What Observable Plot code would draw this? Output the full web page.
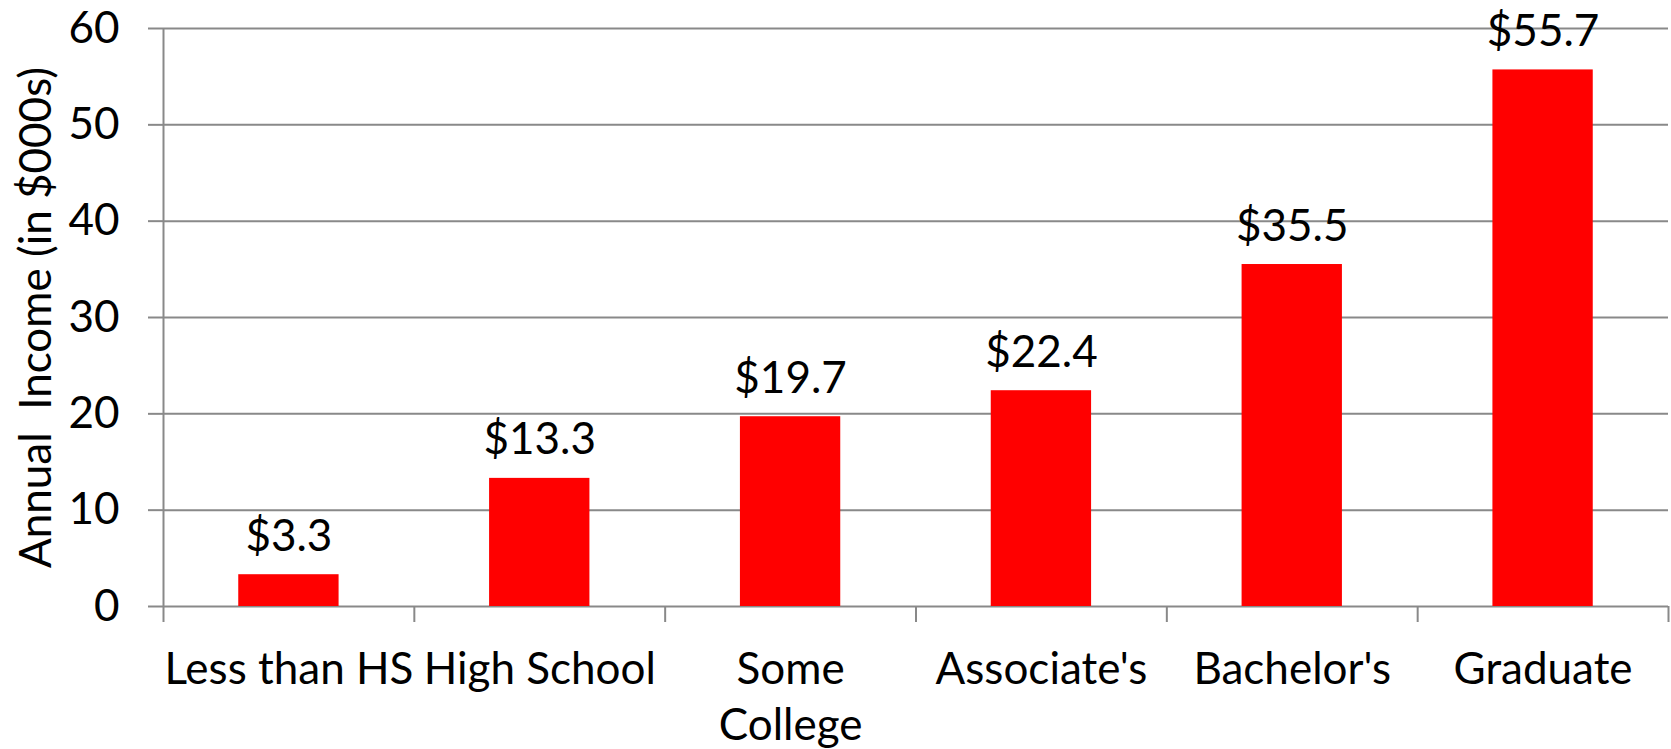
<!DOCTYPE html>
<html>
<head>
<meta charset="utf-8">
<script src="https://cdn.jsdelivr.net/npm/d3@7"></script>
<script src="https://cdn.jsdelivr.net/npm/@observablehq/plot@0.6"></script>
<style>
  html, body { margin: 0; padding: 0; background: #fff; }
  #chart svg { display: block; }
</style>
</head>
<body>
<div id="chart"></div>
<script>
const categories = ["Less than HS", "High School", "Some College", "Associate's", "Bachelor's", "Graduate"];
const tickLabels = ["Less than HS", "High School", "Some\nCollege", "Associate's", "Bachelor's", "Graduate"];
const incomes = [3.3, 13.3, 19.7, 22.4, 35.5, 55.7];
const valueLabels = ["$3.3", "$13.3", "$19.7", "$22.4", "$35.5", "$55.7"];
const yTicks = [0, 10, 20, 30, 40, 50, 60];
const yLabel = "Annual  Income (in $000s)";

const data = categories.map((c, i) => ({
  category: c, index: i, value: incomes[i], label: valueLabels[i], tick: tickLabels[i]
}));
const boundaries = d3.range(categories.length + 1);

const gray = "#898989";
const font = "Lato, 'Open Sans', sans-serif";
const fs = 44;
const lh = 1.28;

const chart = Plot.plot({
  width: 1671,
  height: 749,
  marginLeft: 163,
  marginRight: 3,
  marginTop: 28,
  marginBottom: 143,
  style: { fontFamily: font, background: "#fff", color: "#000" },
  x: { type: "linear", domain: [0, categories.length] },
  y: { domain: [0, 60] },
  marks: [
    Plot.gridY(yTicks, { stroke: gray, strokeOpacity: 1, strokeWidth: 2 }),
    Plot.axisY(yTicks, {
      tickSize: 15, tickPadding: 29, stroke: gray, strokeWidth: 2,
      fill: "#000", fontSize: fs, label: null, tickFormat: d => String(d)
    }),
    Plot.ruleX([0], { stroke: gray, strokeWidth: 2 }),
    Plot.axisX(boundaries, {
      tickSize: 16, stroke: gray, strokeWidth: 2, tickFormat: () => "", label: null
    }),
    Plot.rectY(data, {
      x1: d => d.index + 0.3, x2: d => d.index + 0.7, y1: 0, y2: "value",
      fill: "#ff0000", insetLeft: 0, insetRight: 0
    }),
    Plot.text(data, {
      x: d => d.index + 0.5, y: "value", text: "label",
      lineAnchor: "bottom", dy: -24, fontSize: fs, fill: "#000"
    }),
    Plot.text(data, {
      x: d => d.index + 0.5, frameAnchor: "bottom", text: "tick",
      lineAnchor: "top", dy: 77 - 0.71 * lh * fs, lineHeight: lh, fontSize: fs, fill: "#000"
    }),
    Plot.text([yLabel], {
      text: d => d, frameAnchor: "left", rotate: -90,
      lineAnchor: "bottom", textAnchor: "middle",
      dx: -113, dy: 0, fontSize: 44, fill: "#000"
    })
  ]
});
document.getElementById("chart").appendChild(chart);
</script>
</body>
</html>
